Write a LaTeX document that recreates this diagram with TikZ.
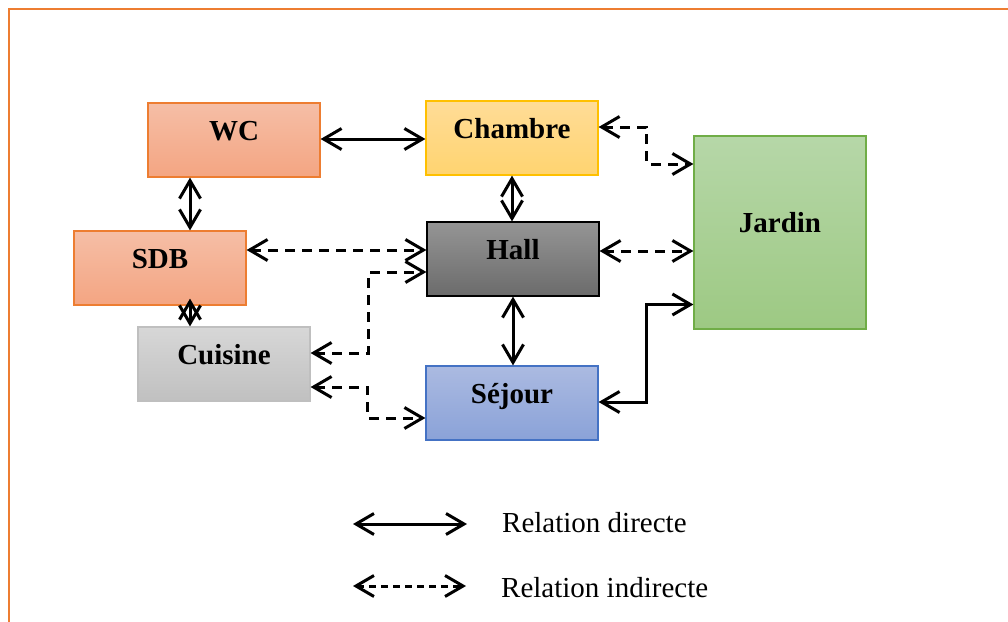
\documentclass[tikz,border=0pt]{standalone}
\usepackage{fontspec}
\setmainfont{Liberation Serif}
\usetikzlibrary{arrows.meta}
\definecolor{frameor}{HTML}{ED7D31}
\definecolor{salmonT}{HTML}{F5BEA6}
\definecolor{salmonB}{HTML}{F4A582}
\definecolor{yelT}{HTML}{FFDC97}
\definecolor{yelB}{HTML}{FFD470}
\definecolor{yelD}{HTML}{FFC000}
\definecolor{grayT}{HTML}{959595}
\definecolor{grayB}{HTML}{6B6B6B}
\definecolor{lgT}{HTML}{D7D7D7}
\definecolor{lgB}{HTML}{C0C0C0}
\definecolor{lgD}{HTML}{BFBFBF}
\definecolor{bluT}{HTML}{ABBAE1}
\definecolor{bluB}{HTML}{8AA2D8}
\definecolor{bluD}{HTML}{4472C4}
\definecolor{grnT}{HTML}{B6D7A8}
\definecolor{grnB}{HTML}{9DC983}
\definecolor{grnD}{HTML}{70AD47}
\tikzset{
  room/.style={draw, line width=1.2pt, minimum width=172pt, minimum height=74pt, inner sep=0pt,
    font=\fontsize{29}{34}\selectfont\bfseries, text height=20pt, text depth=20pt},
  redroom/.style={room, top color=salmonT, bottom color=salmonB, draw=frameor},
  rel/.style={line width=3pt, {Straight Barb[length=18pt,width=21pt]}-{Straight Barb[length=18pt,width=21pt]}},
  indrel/.style={rel, dash pattern=on 10pt off 7pt},
  legtext/.style={anchor=base west, inner sep=0pt, font=\fontsize{29}{34}\selectfont}
}
\begin{document}
\begin{tikzpicture}[x=1pt,y=-1pt]
\useasboundingbox (0,0) rectangle (1008,621);
\clip (0,0) rectangle (1008,621);
\draw[frameor, line width=2.5pt] (1015,9) -- (9,9) -- (9,630);

\node[redroom] (wc) at (234,140) {WC};
\node[room, top color=yelT, bottom color=yelB, draw=yelD] (ch) at (512,138) {Chambre};
\node[room, top color=grayT, bottom color=grayB, draw=black] (hall) at (513,259) {Hall};
\node[redroom] (sdb) at (160,268) {SDB};
\node[room, top color=lgT, bottom color=lgB, draw=lgD] (cui) at (224,364) {Cuisine};
\node[room, top color=bluT, bottom color=bluB, draw=bluD] (sej) at (512,403) {Séjour};
\node[room, minimum height=193pt, top color=grnT, bottom color=grnB, draw=grnD] (jar) at (780,232.5) {Jardin};

% direct relations
\draw[rel] ([yshift=1pt]wc.east) -- ([yshift=1pt]wc.east -| ch.west);
\draw[rel] ([xshift=-44pt]wc.south) -- ([xshift=-44pt]wc.south |- sdb.north);
\draw[rel] ([xshift=30pt,yshift=7pt]sdb.south) -- ([xshift=-34pt]cui.north);
\draw[rel] (ch.south) -- (ch.south |- hall.north);
\draw[rel] (hall.south) -- (hall.south |- sej.north);
\draw[rel] ([yshift=1pt]sej.east) -- ++(48,0) |- ([yshift=-72pt]jar.west);

% indirect relations
\draw[indrel] ([yshift=18pt]sdb.east) -- ([yshift=18pt]sdb.east -| hall.west);
\draw[indrel] ([yshift=11pt]cui.east) -- ++(58,0) |- ([yshift=-13pt]hall.west);
\draw[indrel] ([yshift=-23pt]cui.east) -- ++(57,0) |- ([yshift=-15pt]sej.west);
\draw[indrel] ([yshift=11pt]ch.east) -- ++(48,0) |- ([yshift=68.5pt]jar.west);
\draw[indrel] ([yshift=8pt]hall.east) -- ([yshift=8pt]hall.east -| jar.west);

% legend
\coordinate (l1a) at (353,524);
\coordinate (l1b) at (467,524);
\coordinate (l2a) at (353,586);
\coordinate (l2b) at (466,586);
\draw[rel] (l1a) -- (l1b);
\draw[rel, dash pattern=on 7pt off 5pt] (l2a) -- (l2b);
\node[legtext] (t1) at (502,532) {Relation directe};
\node[legtext] (t2) at (501,597) {Relation indirecte};
\end{tikzpicture}
\end{document}
